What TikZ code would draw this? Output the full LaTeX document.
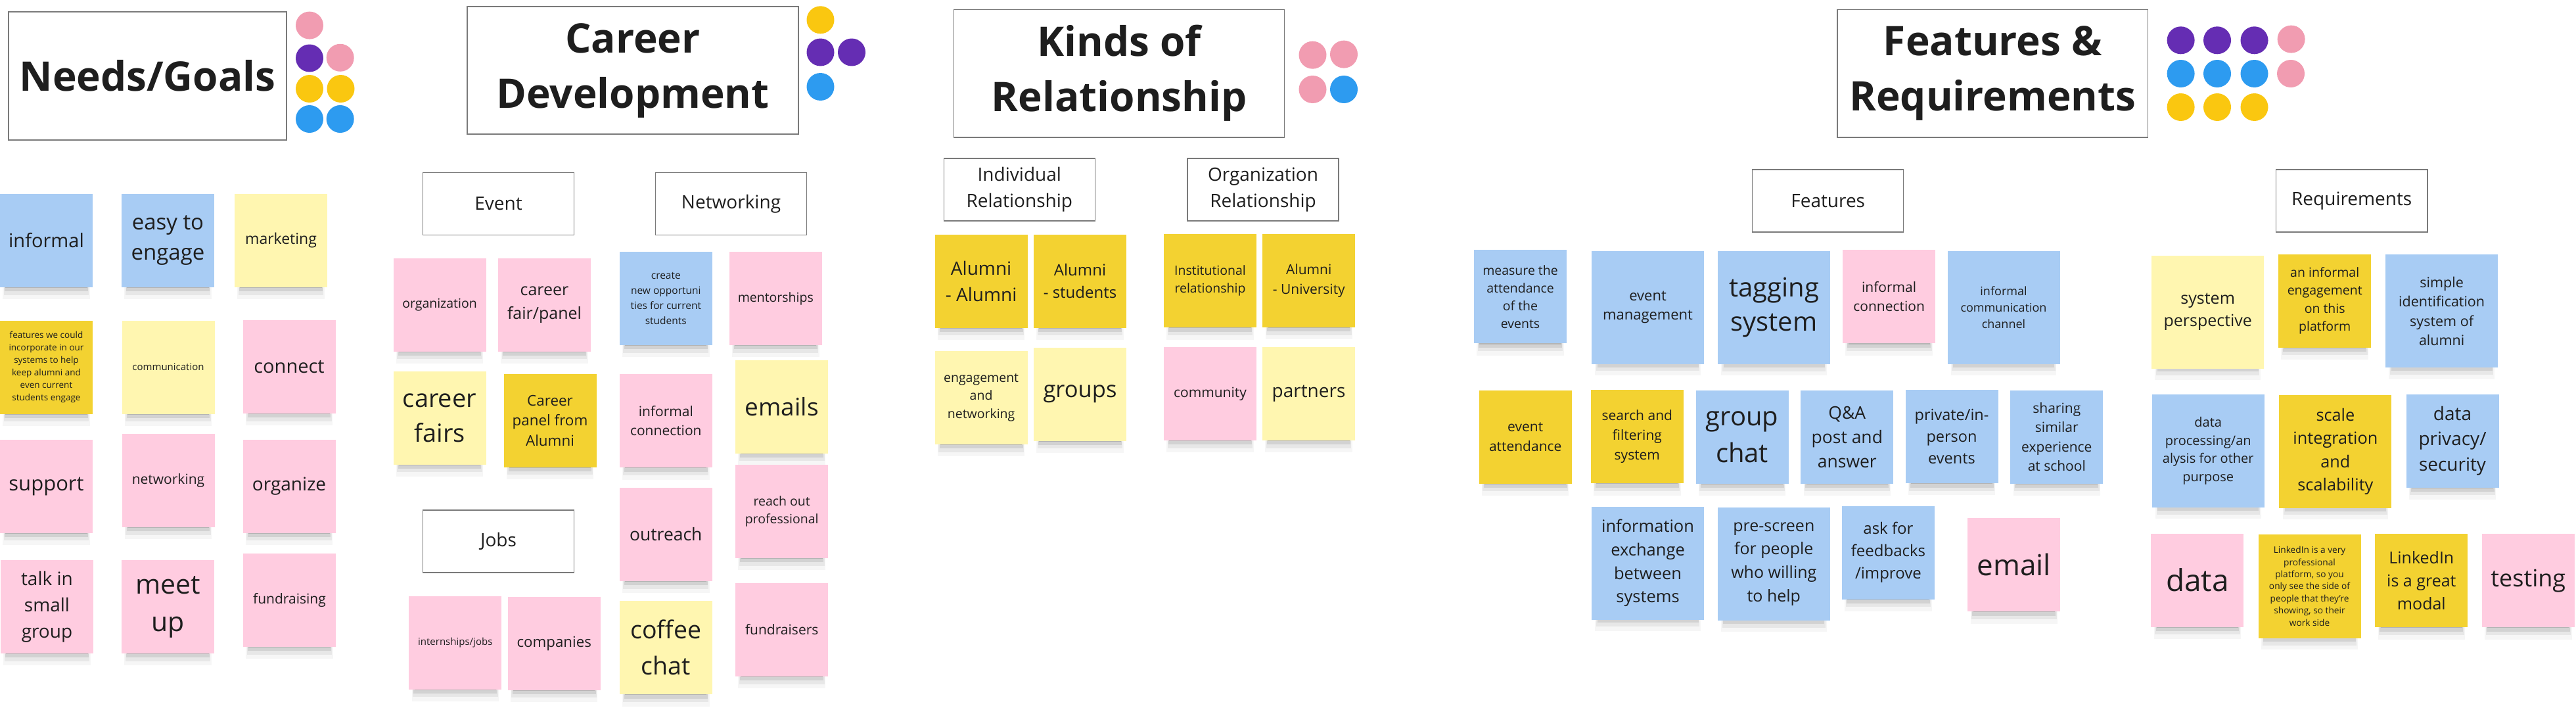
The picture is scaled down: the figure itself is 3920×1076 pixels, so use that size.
\documentclass[tikz,border=0pt]{standalone}
\usepackage{fontspec}
\setmainfont{Open Sans}
\usetikzlibrary{shadows}
\definecolor{nblue}{HTML}{A8CCF4}
\definecolor{npink}{HTML}{FFCCE0}
\definecolor{nly}{HTML}{FFF6B0}
\definecolor{ndy}{HTML}{F3D231}
\definecolor{dpink}{HTML}{F19CB1}
\definecolor{dpurple}{HTML}{652DB3}
\definecolor{dyellow}{HTML}{FAC710}
\definecolor{dblue}{HTML}{2D9BF0}
\definecolor{ink}{HTML}{1E1E1E}
\definecolor{boxgray}{HTML}{7A7A7A}
\newcommand{\notesize}[2]{\fontsize{#1pt}{#2pt}\selectfont}
\begin{document}
\begin{tikzpicture}[x=1pt,y=-1pt,
  note/.style={minimum width=141pt, minimum height=142pt, inner sep=0pt, align=center, text=ink,
     general shadow={shadow scale=0.94, shadow yshift=-24pt, fill=black, opacity=0.035},
     general shadow={shadow scale=0.92, shadow yshift=-19pt, fill=black, opacity=0.06},
     general shadow={shadow scale=0.90, shadow yshift=-15pt, fill=black, opacity=0.09},
     general shadow={shadow scale=0.88, shadow yshift=-11pt, fill=black, opacity=0.14}},
  bignote/.style={minimum width=171pt, minimum height=172pt},
  bluenote/.style={fill=nblue},
  pinknote/.style={fill=npink},
  lynote/.style={fill=nly},
  dynote/.style={fill=ndy},
  hdr/.style={draw=boxgray, line width=1.5pt, fill=white, inner sep=0pt, align=center, text=ink,
     minimum width=230pt, minimum height=95pt, font=\notesize{28}{40}},
  ttl/.style={draw=boxgray, line width=1.5pt, fill=white, inner sep=0pt, align=center, text=ink,
     font=\bfseries\notesize{62}{84}},
  dot/.style={circle, inner sep=0pt, minimum size=42pt}
]
\useasboundingbox (0,0) rectangle (3920,1076);
\fill[white] (0,0) rectangle (3920,1076);

% ---------------- Needs/Goals ----------------
\node[ttl, minimum width=423pt, minimum height=195pt] (tNeeds) at (224.5,115.5) {Needs/Goals};
\node[dot, fill=dpink]   (dN1) at (471,38.6) {};
\node[dot, fill=dpurple] (dN2) at (471,88.5) {};
\node[dot, fill=dpink]   (dN3) at (517.7,87.8) {};
\node[dot, fill=dyellow] (dN4) at (471,135) {};
\node[dot, fill=dyellow] (dN5) at (518.5,135) {};
\node[dot, fill=dblue]   (dN6) at (471,181) {};
\node[dot, fill=dblue]   (dN7) at (517.7,181) {};

\node[note, bluenote, font=\notesize{29}{40}] (nInformal) at (70.5,366) {informal};
\node[note, bluenote, font=\notesize{33}{46}] (nEasy) at (255.5,366) {easy to\\engage};
\node[note, lynote, font=\notesize{23}{32}] (nMarketing) at (427.5,366) {marketing};
\node[note, dynote, font=\notesize{13.5}{19}] (nFeatures) at (70.5,558.5) {features we could\\incorporate in our\\systems to help\\keep alumni and\\even current\\students engage};
\node[note, lynote, font=\notesize{15}{21}] (nComm) at (256,558.5) {communication};
\node[note, pinknote, font=\notesize{29}{40}] (nConnect) at (440,558) {connect};
\node[note, pinknote, font=\notesize{31}{42}] (nSupport) at (70.5,739.5) {support};
\node[note, pinknote, font=\notesize{21}{29}] (nNetworking) at (256,731) {networking};
\node[note, pinknote, font=\notesize{28}{39}] (nOrganize) at (440,739.5) {organize};
\node[note, pinknote, font=\notesize{28}{40}] (nTalk) at (71.5,923) {talk in\\small\\group};
\node[note, pinknote, font=\notesize{41}{57}] (nMeet) at (255.5,923) {meet\\up};
\node[note, pinknote, font=\notesize{21}{29}] (nFund) at (440.5,912.7) {fundraising};

% ---------------- Career Development ----------------
\node[ttl, minimum width=504pt, minimum height=194pt] (tCareer) at (963,107) {Career\\Development};
\node[dot, fill=dyellow] (dC1) at (1248.5,30.3) {};
\node[dot, fill=dpurple] (dC2) at (1248.5,79.5) {};
\node[dot, fill=dpurple] (dC3) at (1296,79.5) {};
\node[dot, fill=dblue]   (dC4) at (1248.5,132) {};

\node[hdr] (hEvent) at (758.5,310) {Event};
\node[hdr] (hNetworking) at (1112.5,310) {Networking};
\node[hdr] (hJobs) at (758.5,823.5) {Jobs};

\node[note, pinknote, font=\notesize{19.5}{27}] (cOrganization) at (669,463.5) {organization};
\node[note, pinknote, font=\notesize{25}{35.5}] (cFairPanel) at (828.5,463.5) {career\\fair/panel};
\node[note, bluenote, font=\notesize{15.5}{22.7}] (cCreate) at (1013.3,454) {create\\new opportuni\\ties for current\\students};
\node[note, pinknote, font=\notesize{19.5}{27}] (cMentor) at (1180.3,454) {mentorships};
\node[note, lynote, font=\notesize{38}{53}] (cFairs) at (669,635.5) {career\\fairs};
\node[note, dynote, font=\notesize{22.4}{30.6}] (cPanel) at (837,639.6) {Career\\panel from\\Alumni};
\node[note, pinknote, font=\notesize{21}{29}] (cInformal) at (1013.3,640.3) {informal\\connection};
\node[note, lynote, font=\notesize{37}{50}] (cEmails) at (1189.7,618.5) {emails};
\node[note, pinknote, font=\notesize{26.5}{36}] (cOutreach) at (1013.3,812.8) {outreach};
\node[note, pinknote, font=\notesize{19.5}{26.5}] (cReach) at (1189.7,778) {reach out\\professional};
\node[note, pinknote, font=\notesize{15}{21}] (cIntern) at (692.8,977.5) {internships/jobs};
\node[note, pinknote, font=\notesize{22.3}{31}] (cCompanies) at (843.2,978.5) {companies};
\node[note, lynote, font=\notesize{37.5}{55}] (cCoffee) at (1013.3,985.3) {coffee\\chat};
\node[note, pinknote, font=\notesize{21}{29}] (cFundraisers) at (1189.7,957.7) {fundraisers};

% ---------------- Kinds of Relationship ----------------
\node[ttl, minimum width=503pt, minimum height=194.5pt] (tKinds) at (1703.2,111.7) {Kinds of\\Relationship};
\node[dot, fill=dpink] (dK1) at (1997.5,83.7) {};
\node[dot, fill=dpink] (dK2) at (2045,82.6) {};
\node[dot, fill=dpink] (dK3) at (1997.5,136) {};
\node[dot, fill=dblue] (dK4) at (2045,136) {};

\node[hdr] (hIndiv) at (1551.3,288.3) {Individual\\Relationship};
\node[hdr] (hOrg) at (1922,288.3) {Organization\\Relationship};

\node[note, dynote, font=\notesize{28}{40}] (kAA) at (1493.1,427.5) {Alumni\\- Alumni};
\node[note, dynote, font=\notesize{24}{33.4}] (kAS) at (1643.5,427.5) {Alumni\\- students};
\node[note, dynote, font=\notesize{19.5}{27}] (kInst) at (1841.5,427.2) {Institutional\\relationship};
\node[note, dynote, font=\notesize{21}{30}] (kAU) at (1991.8,426.7) {Alumni\\- University};
\node[note, lynote, font=\notesize{19.5}{27.5}] (kEng) at (1493.1,604.8) {engagement\\and\\networking};
\node[note, lynote, font=\notesize{34.5}{46}] (kGroups) at (1643.5,599.5) {groups};
\node[note, pinknote, font=\notesize{21}{29}] (kComm) at (1841.5,599) {community};
\node[note, lynote, font=\notesize{28}{38}] (kPartners) at (1991.5,599) {partners};

% ---------------- Features & Requirements ----------------
\node[ttl, minimum width=472.6pt, minimum height=194.5pt] (tFeat) at (3032.3,111.7) {Features \&\\Requirements};
\node[dot, fill=dpurple] (dF1) at (3318.6,61.3) {};
\node[dot, fill=dpurple] (dF2) at (3374,61.3) {};
\node[dot, fill=dpurple] (dF3) at (3430.5,61.3) {};
\node[dot, fill=dpink]   (dF4) at (3486.6,59.6) {};
\node[dot, fill=dblue]   (dF5) at (3318.6,112) {};
\node[dot, fill=dblue]   (dF6) at (3374,112) {};
\node[dot, fill=dblue]   (dF7) at (3430.5,112) {};
\node[dot, fill=dpink]   (dF8) at (3486,112) {};
\node[dot, fill=dyellow] (dF9) at (3318.6,163) {};
\node[dot, fill=dyellow] (dF10) at (3374,163) {};
\node[dot, fill=dyellow] (dF11) at (3430.5,163) {};

\node[hdr] (hFeatures) at (2781.7,305.5) {Features};
\node[hdr] (hReq) at (3578.7,305.5) {Requirements};

\node[note, bluenote, font=\notesize{19.5}{27}] (fMeasure) at (2313.5,451.4) {measure the\\attendance\\of the\\events};
\node[note, bignote, bluenote, font=\notesize{22}{29.3}] (fEventMgmt) at (2507.5,467.7) {event\\management};
\node[note, bignote, bluenote, font=\notesize{40}{52}] (fTagging) at (2699.5,468) {tagging\\system};
\node[note, pinknote, font=\notesize{21}{29}] (fInformal) at (2874.6,451.4) {informal\\connection};
\node[note, bignote, bluenote, font=\notesize{18}{25}] (fInfoChan) at (3049,467.7) {informal\\communication\\channel};
\node[note, dynote, font=\notesize{21}{30}] (fAttend) at (2321.2,664.6) {event\\attendance};
\node[note, dynote, font=\notesize{21}{30}] (fSearch) at (2491.3,664.3) {search and\\filtering\\system};
\node[note, bluenote, font=\notesize{40}{56}] (fGroupChat) at (2651,664.6) {group\\chat};
\node[note, bluenote, font=\notesize{26.5}{37}] (fQA) at (2810.8,664.6) {Q\&A\\post and\\answer};
\node[note, bluenote, font=\notesize{23.5}{33}] (fPrivate) at (2970,664.1) {private/in-\\person\\events};
\node[note, bluenote, font=\notesize{21}{29.3}] (fSharing) at (3129.8,664.6) {sharing\\similar\\experience\\at school};
\node[note, bignote, bluenote, font=\notesize{25.5}{35.7}] (fInfoEx) at (2507.5,856.5) {information\\exchange\\between\\systems};
\node[note, bignote, bluenote, font=\notesize{25}{35.7}] (fPrescreen) at (2699.3,858) {pre-screen\\for people\\who willing\\to help};
\node[note, bluenote, font=\notesize{24}{34}] (fAsk) at (2873.4,840.5) {ask for\\feedbacks\\/improve};
\node[note, pinknote, font=\notesize{44}{58}] (fEmail) at (3064.8,859.2) {email};

\node[note, bignote, lynote, font=\notesize{25}{34.5}] (rSystem) at (3359.7,474.5) {system\\perspective};
\node[note, dynote, font=\notesize{19.5}{27.5}] (rInformal) at (3537.7,457.5) {an informal\\engagement\\on this\\platform};
\node[note, bignote, bluenote, font=\notesize{21.5}{29.6}] (rSimple) at (3715.6,473.4) {simple\\identification\\system of\\alumni};
\node[note, bignote, bluenote, font=\notesize{20}{27.5}] (rDataProc) at (3360.2,686) {data\\processing/an\\alysis for other\\purpose};
\node[note, bignote, dynote, font=\notesize{25.3}{35.5}] (rScale) at (3553.9,686.8) {scale\\integration\\and\\scalability};
\node[note, bluenote, font=\notesize{28}{38.6}] (rPrivacy) at (3732,670.5) {data\\privacy/\\security};
\node[note, pinknote, font=\notesize{46}{60}] (rData) at (3343.9,882.6) {data};
\node[note, dynote, minimum width=156pt, minimum height=157.6pt, font=\notesize{13.7}{18.4}] (rLinked1) at (3514.5,891.8) {LinkedIn is a very\\professional\\platform, so you\\only see the side of\\people that they're\\showing, so their\\work side};
\node[note, dynote, font=\notesize{25}{35}] (rLinked2) at (3684.8,883.3) {LinkedIn\\is a great\\modal};
\node[note, pinknote, font=\notesize{36}{48}] (rTesting) at (3847.3,883.3) {testing};
\end{tikzpicture}
\end{document}
